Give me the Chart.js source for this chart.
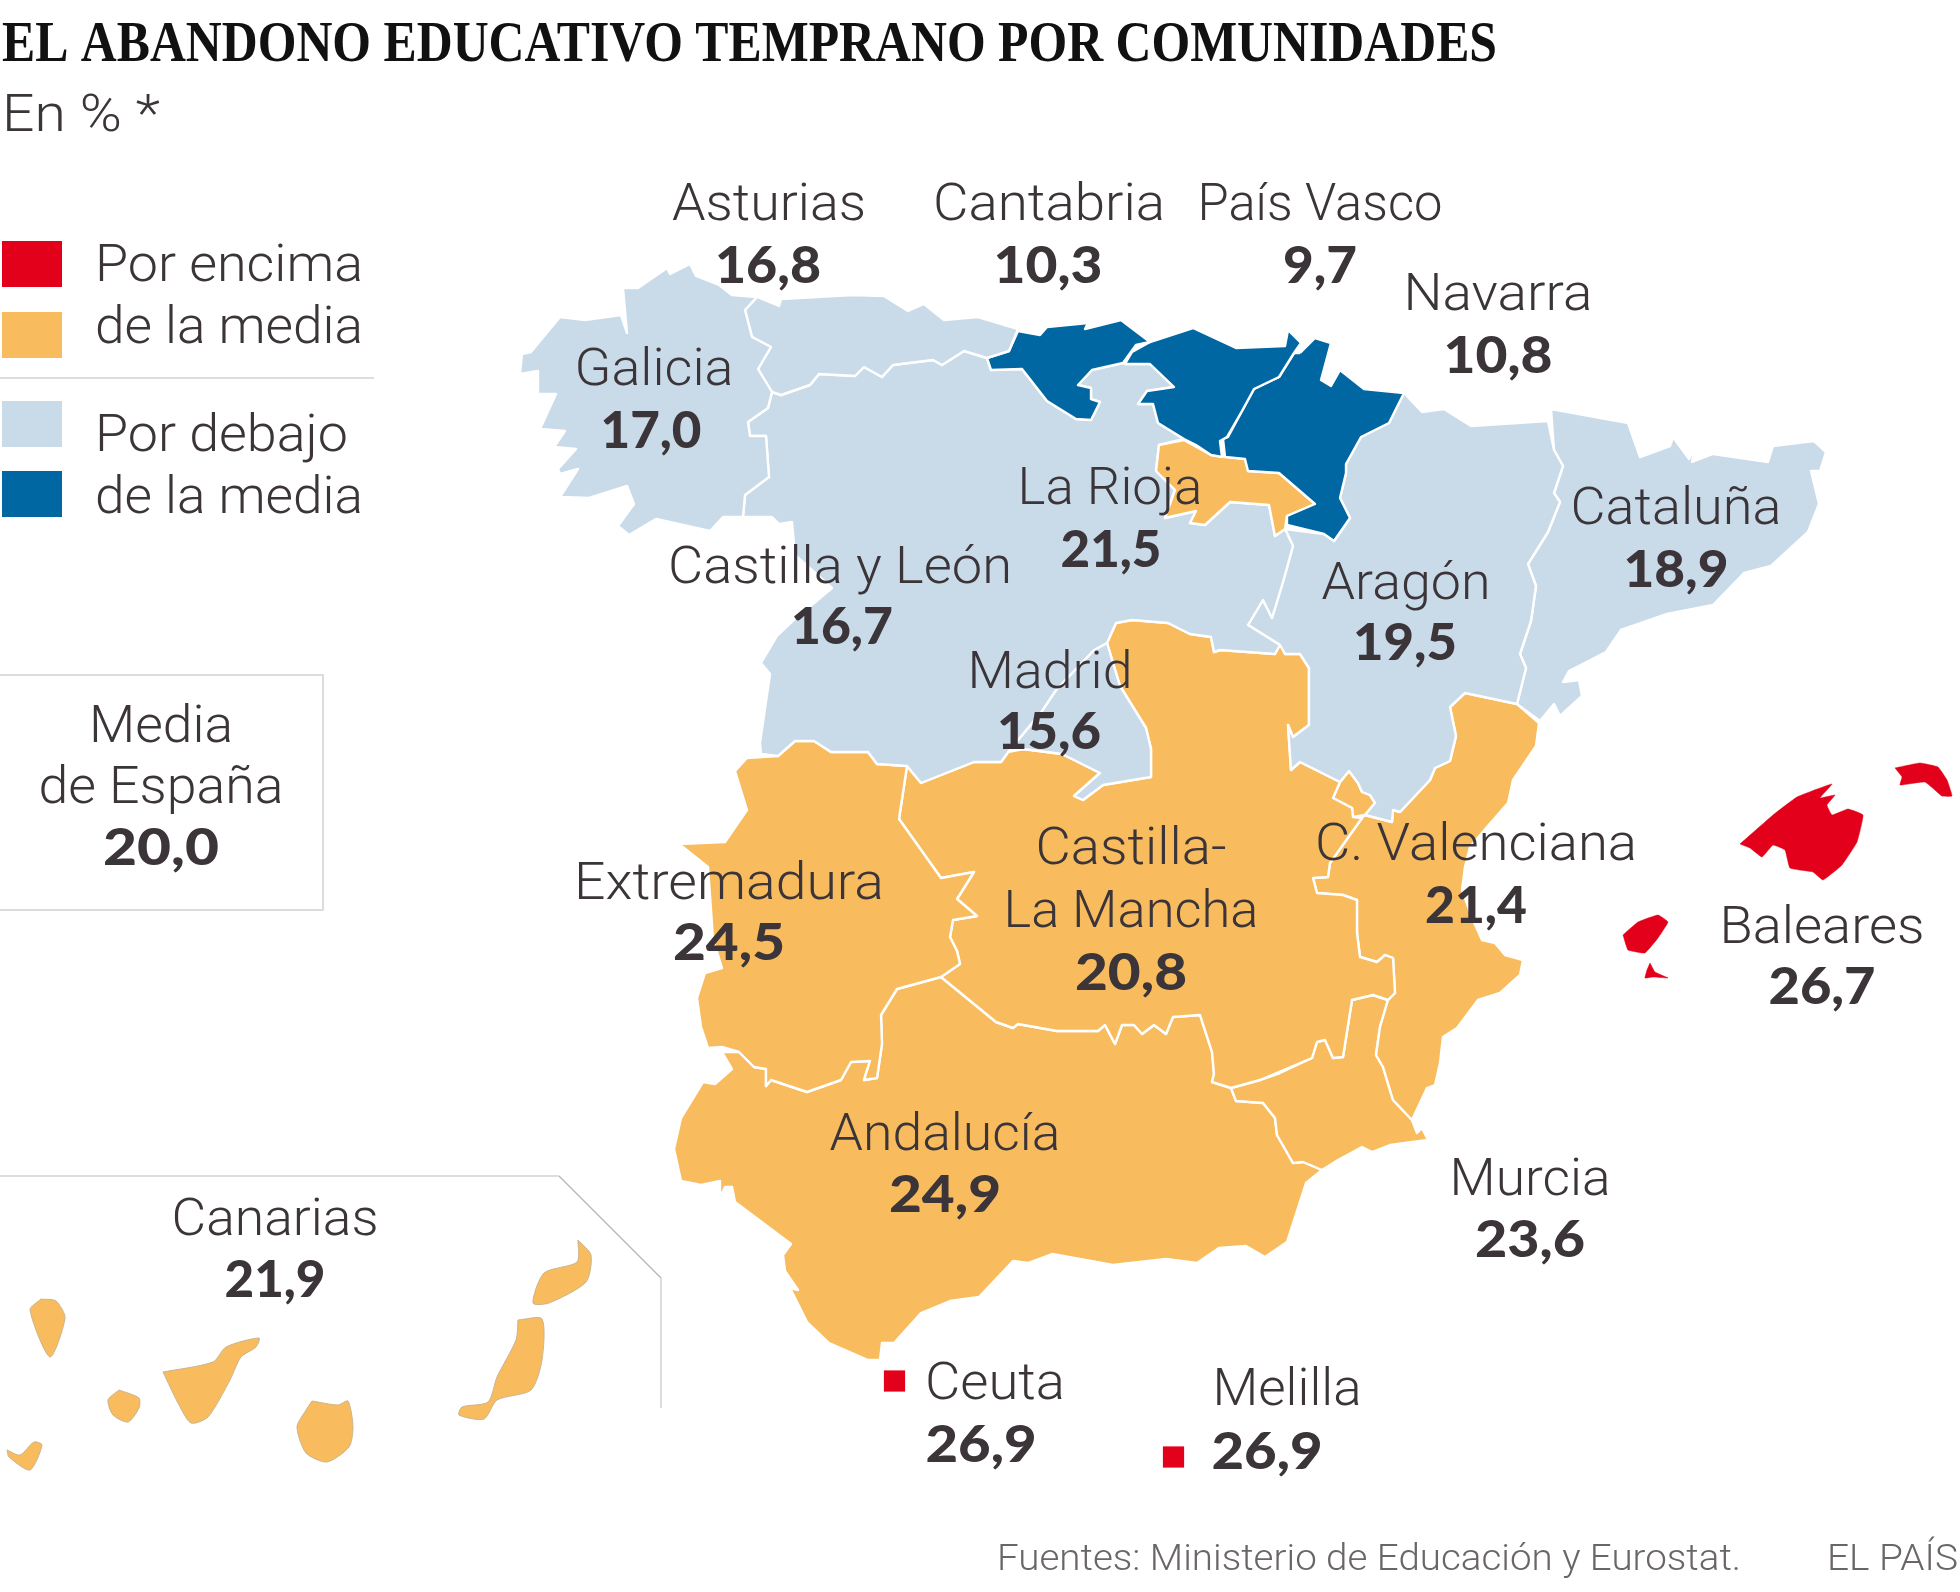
<!DOCTYPE html>
<html lang="es">
<head>
<meta charset="utf-8">
<title>El abandono educativo temprano por comunidades</title>
<script src="https://cdn.jsdelivr.net/npm/chart.js@4"></script>
<style>
  html, body { margin: 0; padding: 0; background: #fff; }
  canvas { display: block; }
</style>
</head>
<body>
<canvas id="mapChart" width="1960" height="1592"></canvas>
<script>
// Datos por comunidad (% de abandono)
const regionNames = ['Galicia', 'Asturias', 'Cantabria', 'País Vasco', 'Navarra', 'La Rioja', 'Castilla y León', 'Madrid', 'Aragón', 'Cataluña', 'Extremadura', 'Castilla-La Mancha', 'C. Valenciana', 'Murcia', 'Andalucía', 'Baleares', 'Canarias', 'Ceuta', 'Melilla'];
const regionValues = [17.0, 16.8, 10.3, 9.7, 10.8, 21.5, 16.7, 15.6, 19.5, 18.9, 24.5, 20.8, 21.4, 23.6, 24.9, 26.7, 21.9, 26.9, 26.9];
const spainMean = 20.0;

// Contornos del mapa, en unidades del eje (una lista por cada trozo de tierra)
const galicia = [[757,297],[732,295],[719,285],[696,276],[690,264],[670,274],[667,268],[638,288],[623,288],[627,333],[621,315],[585,320],[560,317],[545,335],[531,352],[522,354],[520,374],[538,371],[538,394],[556,394],[540,429],[565,431],[554,447],[576,449],[558,469],[560,474],[578,469],[560,497],[589,498],[627,486],[634,504],[618,526],[629,535],[656,519],[710,531],[723,517],[743,517],[745,495],[769,477],[766,436],[750,436],[748,422],[768,408],[772,392],[758,369],[771,347],[752,337],[745,310]];
const asturias = [[757,297],[779,306],[781,299],[853,295],[884,296],[908,311],[924,304],[944,320],[978,317],[1018,329],[1009,351],[987,358],[964,351],[942,365],[933,360],[893,365],[882,377],[864,367],[855,376],[819,374],[810,385],[781,395],[772,392],[758,369],[771,347],[752,337],[745,310]];
const cantabria = [[1018,331],[1040,335],[1047,327],[1088,323],[1085,329],[1121,320],[1150,342],[1136,345],[1123,363],[1092,370],[1078,385],[1091,388],[1091,399],[1100,402],[1091,420],[1076,419],[1047,401],[1022,369],[991,370],[987,358],[1009,351]];
const paisVasco = [[1150,342],[1193,328],[1236,348],[1285,346],[1288,330],[1301,343],[1294,353],[1279,377],[1254,389],[1242,411],[1227,437],[1220,441],[1222,457],[1211,455],[1196,445],[1184,439],[1158,423],[1153,404],[1138,404],[1147,391],[1174,387],[1150,364],[1125,364],[1132,352]];
const navarra = [[1300,353],[1315,338],[1331,343],[1321,380],[1331,386],[1340,370],[1364,389],[1404,393],[1389,423],[1361,437],[1346,464],[1346,473],[1340,498],[1350,518],[1334,541],[1324,534],[1287,525],[1287,516],[1315,504],[1279,473],[1248,471],[1245,459],[1225,457],[1223,439],[1228,437],[1242,411],[1254,389],[1279,377],[1294,353]];
const rioja = [[1159,445],[1184,440],[1211,455],[1245,459],[1248,471],[1279,473],[1315,504],[1287,516],[1285,529],[1275,536],[1269,505],[1230,502],[1205,525],[1190,523],[1196,511],[1165,518],[1175,490],[1156,471]];
const castillaLeon = [[772,392],[781,395],[810,385],[819,374],[855,376],[864,367],[882,377],[893,365],[933,360],[942,365],[964,351],[987,358],[991,370],[1022,369],[1047,401],[1076,419],[1091,420],[1100,402],[1091,399],[1091,388],[1078,385],[1092,370],[1123,363],[1125,364],[1150,364],[1174,387],[1147,391],[1138,404],[1153,404],[1158,423],[1184,439],[1159,445],[1156,471],[1175,490],[1165,518],[1196,511],[1190,523],[1205,525],[1230,502],[1269,505],[1275,536],[1285,529],[1293,546],[1283,582],[1272,618],[1263,600],[1248,625],[1280,645],[1275,654],[1220,650],[1214,652],[1211,637],[1190,634],[1168,623],[1132,620],[1116,623],[1107,643],[1094,650],[1056,690],[1042,711],[1009,751],[1001,762],[974,762],[921,783],[907,766],[877,764],[868,752],[831,752],[814,741],[795,741],[778,756],[761,754],[760,743],[770,674],[761,663],[777,636],[795,619],[832,588],[795,555],[792,522],[779,524],[772,517],[743,517],[745,495],[769,477],[766,436],[750,436],[748,422],[768,408]];
const madrid = [[1107,643],[1120,686],[1146,728],[1151,749],[1151,777],[1103,785],[1083,800],[1074,796],[1100,773],[1062,754],[1023,749],[1009,751],[1042,711],[1056,690],[1094,650]];
const aragon = [[1404,393],[1422,412],[1444,409],[1471,426],[1548,421],[1554,450],[1563,466],[1554,493],[1560,502],[1548,532],[1528,564],[1536,586],[1531,621],[1520,654],[1526,668],[1517,704],[1465,693],[1450,707],[1456,736],[1450,761],[1435,768],[1430,780],[1400,812],[1393,810],[1392,822],[1365,815],[1375,803],[1370,795],[1362,792],[1358,783],[1349,771],[1340,782],[1300,762],[1291,770],[1288,725],[1293,737],[1309,725],[1309,668],[1300,654],[1285,654],[1280,645],[1248,625],[1263,600],[1272,618],[1283,582],[1293,546],[1285,529],[1324,534],[1334,541],[1350,518],[1340,498],[1346,473],[1346,464],[1361,437],[1389,423]];
const cataluna = [[1551,409],[1628,423],[1640,457],[1670,446],[1673,437],[1689,459],[1695,446],[1692,462],[1713,454],[1768,462],[1773,446],[1814,441],[1826,452],[1820,471],[1811,471],[1819,504],[1808,532],[1771,566],[1744,573],[1713,605],[1667,614],[1621,630],[1606,652],[1569,671],[1563,682],[1579,680],[1582,696],[1560,716],[1554,704],[1540,721],[1517,704],[1526,668],[1520,654],[1531,621],[1536,586],[1528,564],[1548,532],[1560,502],[1554,493],[1563,466],[1554,450]];
const extremadura = [[735,771],[747,758],[778,756],[795,741],[814,741],[831,752],[868,752],[877,764],[907,766],[899,819],[941,878],[974,872],[957,899],[977,916],[953,920],[950,937],[957,951],[960,964],[941,977],[897,989],[881,1015],[882,1044],[877,1078],[864,1080],[870,1061],[851,1062],[841,1080],[807,1092],[771,1080],[766,1086],[766,1069],[754,1067],[739,1052],[722,1047],[708,1048],[701,1027],[697,998],[705,973],[722,968],[713,939],[708,867],[679,844],[725,842],[747,810]];
const castillaMancha = [[907,766],[921,783],[974,762],[1001,762],[1008,752],[1023,749],[1062,754],[1100,773],[1074,796],[1083,800],[1103,785],[1151,777],[1151,749],[1146,728],[1120,686],[1107,643],[1116,623],[1132,620],[1168,623],[1190,634],[1211,637],[1214,652],[1220,650],[1275,654],[1279,645],[1285,645],[1285,654],[1300,654],[1309,668],[1309,725],[1293,737],[1288,725],[1291,770],[1300,762],[1340,782],[1333,798],[1352,808],[1353,817],[1362,818],[1330,863],[1328,877],[1313,878],[1317,893],[1343,895],[1357,900],[1357,933],[1360,957],[1377,962],[1385,955],[1393,958],[1395,993],[1388,1000],[1373,995],[1352,1000],[1343,1057],[1333,1058],[1325,1040],[1317,1042],[1312,1058],[1260,1080],[1231,1088],[1212,1082],[1214,1074],[1212,1052],[1200,1015],[1173,1017],[1166,1034],[1154,1025],[1142,1034],[1134,1025],[1122,1025],[1115,1044],[1105,1025],[1098,1031],[1057,1031],[1018,1024],[1013,1028],[996,1022],[941,977],[960,964],[957,951],[950,937],[953,920],[977,916],[957,899],[974,872],[941,878],[899,819]];
const valencia = [[1465,693],[1517,704],[1539,723],[1536,746],[1513,780],[1508,803],[1487,827],[1470,847],[1465,867],[1462,890],[1473,920],[1482,940],[1495,943],[1505,955],[1523,960],[1520,975],[1500,993],[1478,1000],[1457,1028],[1443,1037],[1440,1063],[1435,1085],[1427,1088],[1412,1120],[1393,1100],[1383,1067],[1376,1055],[1380,1027],[1388,1000],[1395,993],[1393,958],[1385,955],[1377,962],[1360,957],[1357,933],[1357,900],[1343,895],[1317,893],[1313,878],[1328,877],[1330,863],[1362,818],[1365,815],[1392,822],[1393,810],[1400,812],[1430,780],[1435,768],[1450,761],[1456,736],[1450,707]];
const ademuz = [[1349,771],[1358,783],[1362,792],[1370,795],[1375,803],[1365,815],[1353,817],[1352,808],[1333,798],[1340,782]];
const murcia = [[1280,1073],[1312,1058],[1317,1042],[1325,1040],[1333,1058],[1343,1057],[1352,1000],[1373,995],[1388,1000],[1380,1027],[1376,1055],[1383,1067],[1393,1100],[1412,1120],[1417,1133],[1422,1128],[1428,1140],[1390,1145],[1372,1152],[1362,1147],[1338,1160],[1322,1170],[1303,1162],[1293,1163],[1277,1135],[1275,1118],[1263,1103],[1236,1101],[1231,1088],[1260,1080]];
const andalucia = [[941,977],[996,1022],[1013,1028],[1018,1024],[1057,1031],[1098,1031],[1105,1025],[1115,1044],[1122,1025],[1134,1025],[1142,1034],[1154,1025],[1166,1034],[1173,1017],[1200,1015],[1212,1052],[1214,1074],[1212,1082],[1231,1088],[1236,1101],[1263,1103],[1275,1118],[1277,1135],[1293,1163],[1303,1162],[1322,1170],[1306,1183],[1287,1242],[1265,1257],[1246,1246],[1219,1248],[1197,1263],[1166,1259],[1113,1265],[1052,1254],[1028,1263],[1013,1261],[979,1297],[950,1301],[921,1313],[894,1343],[882,1343],[880,1360],[868,1360],[829,1343],[807,1322],[790,1288],[798,1290],[785,1271],[783,1255],[791,1244],[735,1202],[732,1187],[725,1187],[720,1198],[720,1181],[701,1185],[681,1181],[674,1149],[681,1118],[703,1082],[715,1084],[732,1069],[722,1052],[739,1052],[754,1067],[766,1069],[766,1086],[771,1080],[807,1092],[841,1080],[851,1062],[870,1061],[864,1080],[877,1078],[882,1044],[881,1015],[897,989]];
const mallorca = [[1740,844],[1773,815],[1797,797],[1832,784],[1820,798],[1835,795],[1827,805],[1832,815],[1848,809],[1863,815],[1857,842],[1842,865],[1823,880],[1813,872],[1790,868],[1785,850],[1773,845],[1762,857],[1750,848]];
const menorca = [[1895,768],[1920,763],[1938,767],[1947,780],[1952,796],[1942,796],[1925,782],[1900,785],[1902,777]];
const ibiza = [[1623,935],[1638,922],[1658,915],[1668,922],[1658,938],[1645,953],[1628,950]];
const formentera = [[1650,963],[1655,972],[1668,978],[1653,977],[1645,978],[1647,970]];
const laPalma = [[41,1299],[56,1301],[65,1318],[50,1357],[30,1310]];
const tenerife = [[163,1372],[213,1362],[226,1347],[259,1338],[256,1347],[241,1357],[230,1380],[208,1417],[191,1423],[178,1403]];
const gomera = [[119,1390],[139,1398],[139,1408],[128,1422],[113,1415],[108,1400]];
const hierro = [[7,1450],[20,1455],[34,1442],[42,1445],[30,1470],[9,1457]];
const granCanaria = [[312,1401],[338,1405],[348,1401],[353,1427],[349,1447],[327,1462],[306,1453],[297,1427],[306,1410]];
const fuerteventura = [[518,1320],[542,1319],[542,1360],[531,1390],[497,1400],[484,1419],[459,1415],[462,1407],[488,1402],[497,1377],[516,1340]];
const lanzarote = [[578,1240],[591,1255],[586,1282],[549,1303],[533,1303],[544,1273],[577,1262]];

const regionShapes = {
  'Galicia': [galicia],
  'Asturias': [asturias],
  'Cantabria': [cantabria],
  'País Vasco': [paisVasco],
  'Navarra': [navarra],
  'La Rioja': [rioja],
  'Castilla y León': [castillaLeon],
  'Madrid': [madrid],
  'Aragón': [aragon],
  'Cataluña': [cataluna],
  'Extremadura': [extremadura],
  'Castilla-La Mancha': [castillaMancha],
  'C. Valenciana': [valencia, ademuz],
  'Murcia': [murcia],
  'Andalucía': [andalucia],
  'Baleares': [mallorca, menorca, ibiza, formentera],
  'Canarias': [laPalma, tenerife, gomera, hierro, granCanaria, fuerteventura, lanzarote]
};

// Ceuta y Melilla son solo un cuadrito
const cityMarks = { 'Ceuta': [894.5, 1381], 'Melilla': [1173.5, 1457] };

// Colores de la leyenda
const RED = '#E2001A';
const ORANGE = '#F8BC5E';
const LIGHT_BLUE = '#C9DAE9';
const DARK_BLUE = '#0067A3';
const INK = '#3B3539';

function colorFor(value) {
  if (value >= 25) return RED;
  if (value >= spainMean) return ORANGE;
  if (value >= 15) return LIGHT_BLUE;
  return DARK_BLUE;
}

function valueText(value) {
  return value.toFixed(1).replace('.', ',');
}

function valueOf(name) {
  return regionValues[regionNames.indexOf(name)];
}

// Poligono cerrado relleno
function polygonDataset(points, color, edge, edgeWidth, tension) {
  return {
    data: points.concat([points[0]]).map(p => ({ x: p[0], y: p[1] })),
    showLine: true,
    fill: 'shape',
    backgroundColor: color,
    borderColor: edge,
    borderWidth: edgeWidth,
    borderJoinStyle: 'round',
    pointRadius: 0,
    tension: tension || 0
  };
}

// Linea abierta sin relleno (marcos y separadores)
function lineDataset(points, color, width) {
  return {
    data: points.map(p => ({ x: p[0], y: p[1] })),
    showLine: true,
    fill: false,
    borderColor: color,
    borderWidth: width,
    pointRadius: 0,
    tension: 0
  };
}

const datasets = [];

regionNames.forEach((name, i) => {
  const shapes = regionShapes[name];
  if (!shapes) return;
  const color = colorFor(regionValues[i]);
  shapes.forEach(points => {
    if (name === 'Canarias') datasets.push(polygonDataset(points, color, '#C9B48F', 1, 0.25));
    else if (name === 'Baleares') datasets.push(polygonDataset(points, color, color, 0.5, 0.1));
    else datasets.push(polygonDataset(points, color, '#FFFFFF', 2.4));
  });
});

Object.keys(cityMarks).forEach(name => {
  datasets.push({
    data: [{ x: cityMarks[name][0], y: cityMarks[name][1] }],
    showLine: false,
    pointStyle: 'rect',
    pointRadius: 15,
    pointBackgroundColor: colorFor(valueOf(name)),
    pointBorderWidth: 0
  });
});

// Leyenda: cuadros de color
[[RED, 241, 287], [ORANGE, 312, 358], [LIGHT_BLUE, 401, 447], [DARK_BLUE, 471, 517]].forEach(s => {
  datasets.push(polygonDataset([[2, s[1]], [62, s[1]], [62, s[2]], [2, s[2]]], s[0], s[0], 0));
});
datasets.push(lineDataset([[0, 378], [374, 378]], '#DDDDDD', 2));

// Caja de la media y recuadro de Canarias
datasets.push(lineDataset([[0, 675], [323, 675], [323, 910], [0, 910]], '#DCDCDC', 2));
datasets.push(lineDataset([[0, 1176], [559, 1176]], '#DDDDDD', 2));
datasets.push(lineDataset([[559, 1176], [661, 1278]], '#B5B5B5', 1.2));
datasets.push(lineDataset([[661, 1278], [661, 1408]], '#DDDDDD', 2));

// Textos: [texto, x, linea base, ancho]
const nameLabels = [
  ['Asturias', 769, 220, 194], ['Cantabria', 1049, 220, 232], ['País Vasco', 1320, 220, 245],
  ['Navarra', 1498, 310, 189], ['Galicia', 654, 385, 159], ['La Rioja', 1110, 504, 185],
  ['Castilla y León', 840, 583, 344], ['Cataluña', 1676, 524, 211], ['Aragón', 1406, 599, 169],
  ['Madrid', 1050, 688, 165], ['Extremadura', 729, 899, 310], ['Castilla-', 1131, 864, 191],
  ['La Mancha', 1131, 927, 255], ['C. Valenciana', 1476, 860, 322], ['Baleares', 1822, 943, 205],
  ['Andalucía', 945, 1150, 231], ['Murcia', 1530, 1195, 161], ['Ceuta', 995, 1399, 140],
  ['Melilla', 1287, 1405, 149], ['Canarias', 275, 1235, 207],
  ['Media', 161, 742, 144], ['de España', 161, 803, 245]
];
const valueLabels = [
  ['Asturias', 768, 283, 106], ['Cantabria', 1048, 283, 109], ['País Vasco', 1320, 283, 74],
  ['Navarra', 1498, 373, 109], ['Galicia', 651, 448, 101], ['La Rioja', 1111, 567, 101],
  ['Castilla y León', 842, 644, 102], ['Cataluña', 1676, 587, 105], ['Aragón', 1405, 660, 104],
  ['Madrid', 1049, 749, 104], ['Extremadura', 729, 960, 112], ['Castilla-La Mancha', 1131, 990, 112],
  ['C. Valenciana', 1476, 923, 102], ['Baleares', 1822, 1004, 107], ['Andalucía', 945, 1212, 112],
  ['Murcia', 1530, 1257, 110], ['Ceuta', 981, 1462, 111], ['Melilla', 1267, 1469, 111],
  ['Canarias', 275, 1297, 101]
];
const legendLabels = [
  ['Por encima', 95, 281, 268], ['de la media', 95, 343, 268],
  ['Por debajo', 95, 451, 253], ['de la media', 95, 513, 268]
];

// Escribe el texto ajustado a un ancho dado
function fitText(ctx, text, x, y, width, align) {
  const natural = ctx.measureText(text).width;
  ctx.save();
  ctx.translate(x, y);
  ctx.scale(width / natural, 1);
  ctx.textAlign = align;
  ctx.textBaseline = 'alphabetic';
  ctx.fillText(text, 0, 0);
  ctx.restore();
}

const mapLabels = {
  id: 'mapLabels',
  afterDatasetsDraw(chart) {
    const ctx = chart.ctx;
    const sx = v => chart.scales.x.getPixelForValue(v);
    const sy = v => chart.scales.y.getPixelForValue(v);

    ctx.save();
    ctx.fillStyle = '#111111';
    ctx.font = 'bold 56px "Liberation Serif"';
    fitText(ctx, 'EL ABANDONO EDUCATIVO TEMPRANO POR COMUNIDADES', sx(2), sy(61), 1495, 'left');

    ctx.fillStyle = INK;
    ctx.font = '300 52px Roboto';
    fitText(ctx, 'En % *', sx(2), sy(131), 158, 'left');

    nameLabels.forEach(l => fitText(ctx, l[0], sx(l[1]), sy(l[2]), l[3], 'center'));
    legendLabels.forEach(l => fitText(ctx, l[0], sx(l[1]), sy(l[2]), l[3], 'left'));

    ctx.font = '900 51px Lato';
    valueLabels.forEach(l => fitText(ctx, valueText(valueOf(l[0])), sx(l[1]), sy(l[2]), l[3], 'center'));
    fitText(ctx, valueText(spainMean), sx(161), sy(865), 116, 'center');

    ctx.fillStyle = '#6A6668';
    ctx.font = '300 37px Roboto';
    fitText(ctx, 'Fuentes: Ministerio de Educación y Eurostat.', sx(997), sy(1570), 744, 'left');
    fitText(ctx, 'EL PAÍS', sx(1827), sy(1570), 131, 'left');
    ctx.restore();
  }
};

new Chart(document.getElementById('mapChart'), {
  type: 'scatter',
  data: { datasets: datasets },
  plugins: [mapLabels],
  options: {
    responsive: false,
    animation: false,
    devicePixelRatio: 1,
    layout: { padding: 0, autoPadding: false },
    plugins: {
      legend: { display: false },
      tooltip: { enabled: false }
    },
    scales: {
      x: { type: 'linear', min: 0, max: 1960, display: false },
      y: { type: 'linear', min: 0, max: 1592, reverse: true, display: false }
    }
  }
});
</script>
</body>
</html>
